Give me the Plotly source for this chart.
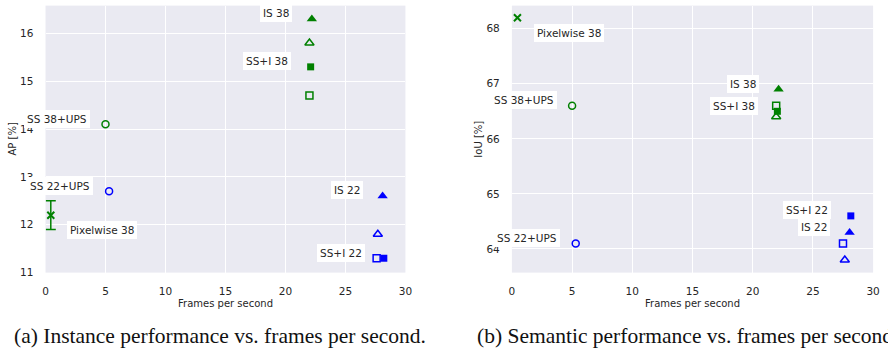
import plotly.graph_objects as go

# ---------------- data ----------------
names = ["Pixelwise 38", "SS 38+UPS", "SS 22+UPS", "IS 38", "IS 38 alt",
         "SS+I 38", "SS+I 38 alt", "IS 22", "IS 22 alt", "SS+I 22", "SS+I 22 alt"]
colors = ["green", "green", "blue", "green", "green", "green", "green",
          "blue", "blue", "blue", "blue"]
symbols = ["x-thin", "circle-open", "circle-open", "triangle-up", "triangle-up-open",
           "square", "square-open", "triangle-up", "triangle-up-open", "square", "square-open"]

inst_fps = [0.44, 5.0, 5.3, 22.2, 22.0, 22.1, 22.0, 28.1, 27.7, 28.2, 27.6]
inst_ap = [12.2, 14.1, 12.7, 16.3, 15.8, 15.3, 14.7, 12.6, 11.8, 11.3, 11.3]
inst_err = [0.3, 0, 0, 0, 0, 0, 0, 0, 0, 0, 0]

sem_fps = [0.46, 5.0, 5.3, 22.15, 21.95, 22.05, 21.95, 28.05, 27.65, 28.15, 27.5]
sem_iou = [68.2, 66.6, 64.1, 66.9, 66.4, 66.5, 66.6, 64.3, 63.8, 64.6, 64.1]

labelled = ["Pixelwise 38", "SS 38+UPS", "SS 22+UPS", "IS 38", "SS+I 38", "IS 22", "SS+I 22"]
inst_lab_x = [4.68, 0.95, 1.18, 19.2, 18.47, 25.1, 24.6]
inst_lab_y = [11.9, 14.21, 12.82, 16.43, 15.42, 12.73, 11.42]
sem_lab_x = [4.76, 0.98, 1.24, 19.18, 18.43, 25.07, 24.5]
sem_lab_y = [67.93, 66.70, 64.2, 67.0, 66.6, 64.4, 64.7]

# ---------------- figure ----------------
fig = go.Figure()
TXT = "#262626"
FONT = "DejaVu Sans"

def msize(sym):
    if sym == "triangle-up":
        return 9
    if sym == "triangle-up-open":
        return 8
    return 7

for i, n in enumerate(names):
    sym = symbols[i]
    lw = 0
    if "open" in sym:
        lw = 1.5
    if sym.startswith("x"):
        lw = 2
    marker = dict(symbol=sym, color=colors[i], size=msize(sym),
                  line=dict(color=colors[i], width=lw))
    err = None
    if inst_err[i] > 0:
        err = dict(type="data", array=[inst_err[i]], visible=True, color=colors[i],
                   thickness=1.5, width=5)
    fig.add_trace(go.Scatter(x=[inst_fps[i]], y=[inst_ap[i]], mode="markers", name=n,
                             marker=marker, error_y=err, xaxis="x", yaxis="y",
                             showlegend=False, cliponaxis=False))
    fig.add_trace(go.Scatter(x=[sem_fps[i]], y=[sem_iou[i]], mode="markers", name=n,
                             marker=marker, xaxis="x2", yaxis="y2",
                             showlegend=False, cliponaxis=False))

W, H = 888, 354
ann = []
for j, n in enumerate(labelled):
    for xr, yr, lx, ly in (("x", "y", inst_lab_x, inst_lab_y), ("x2", "y2", sem_lab_x, sem_lab_y)):
        ann.append(dict(x=lx[j], y=ly[j], xref=xr, yref=yr, text=n, showarrow=False,
                        xanchor="center", yanchor="middle",
                        font=dict(family=FONT, size=10.5, color=TXT),
                        bgcolor="white", bordercolor="white", borderpad=2))

def pann(x, y, text, size, family=FONT, angle=0, xanchor="center", color=TXT):
    return dict(x=x / W, y=1 - y / H, xref="paper", yref="paper", text=text,
                xanchor=xanchor, yanchor="middle", textangle=angle, showarrow=False,
                font=dict(family=family, size=size, color=color))

ann += [
    pann(225, 309, "Frames per second", 10),
    pann(697, 309, "Frames per second", 10),
    pann(9.5, 141.5, "AP [%]", 10, angle=-90),
    pann(481, 141.5, "IoU [%]", 10, angle=-90),
    pann(9, 342, "(a) Instance performance vs. frames per second.", 21.5,
         family="Liberation Serif", xanchor="left", color="#111"),
    pann(477, 342, "(b) Semantic performance vs. frames per second.", 21.5,
         family="Liberation Serif", xanchor="left", color="#111"),
]

axis_common = dict(showgrid=True, gridcolor="white", gridwidth=1.2, zeroline=False,
                   showline=False, ticks="outside", tickcolor="rgba(0,0,0,0)", ticklen=9,
                   tickfont=dict(family=FONT, size=10.5, color=TXT))

ydom = [1 - 277.3 / H, 1 - 5.7 / H]
fig.update_layout(
    width=W, height=H, margin=dict(l=0, r=0, t=0, b=0),
    paper_bgcolor="white", plot_bgcolor="#EAEAF2", showlegend=False,
    xaxis=dict(domain=[43 / W, 407 / W], range=[0, 30], tickvals=[0, 5, 10, 15, 20, 25, 30],
               anchor="y", **axis_common),
    yaxis=dict(domain=ydom, range=[11, 16.58], tickvals=[11, 12, 13, 14, 15, 16],
               anchor="x", **axis_common),
    xaxis2=dict(domain=[514.7 / W, 880 / W], range=[0, 30], tickvals=[0, 5, 10, 15, 20, 25, 30],
                anchor="y2", **axis_common),
    yaxis2=dict(domain=ydom, range=[63.57, 68.42], tickvals=[64, 65, 66, 67, 68],
                anchor="x2", **axis_common),
    annotations=ann,
)

fig.write_html("out.html")
